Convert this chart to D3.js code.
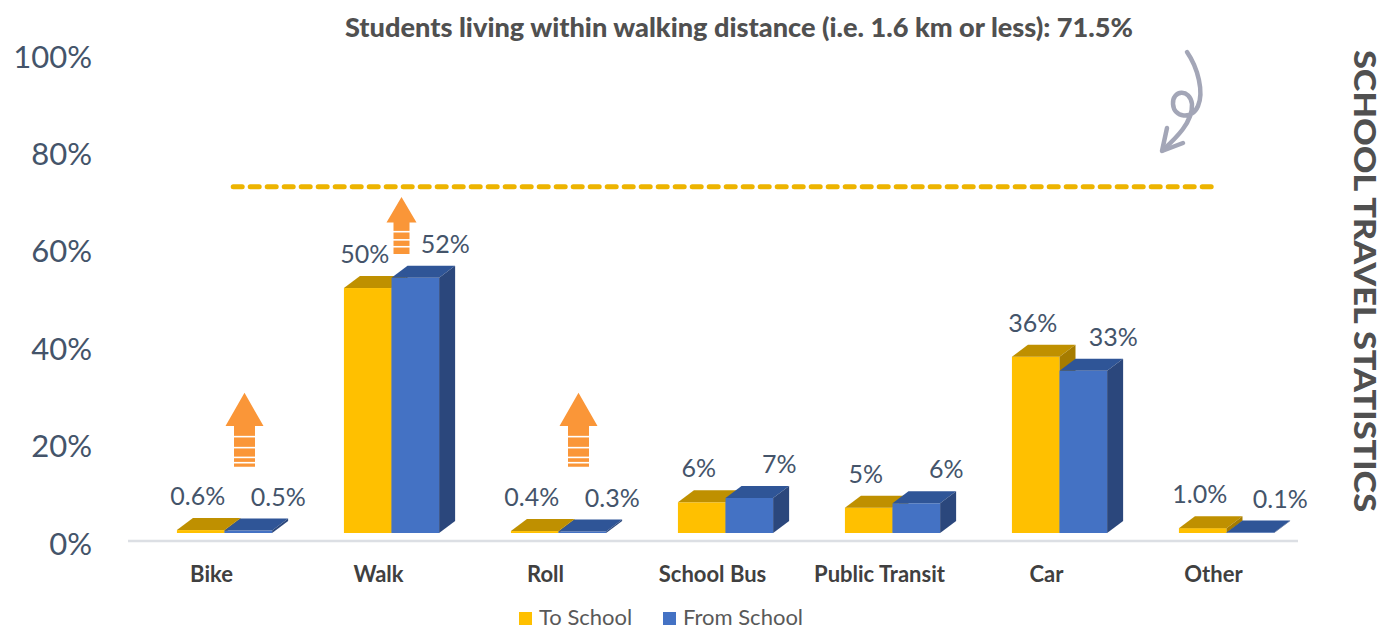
<!DOCTYPE html>
<html>
<head>
<meta charset="utf-8">
<script src="https://cdn.jsdelivr.net/npm/d3@7"></script>
<style>
  html, body { margin: 0; padding: 0; background: #ffffff; }
  svg { display: block; }
</style>
</head>
<body>
<svg id="chart" width="1384" height="631"></svg>
<script>
// ---------- DATA ----------
const categories = ["Bike", "Walk", "Roll", "School Bus", "Public Transit", "Car", "Other"];
const toSchool   = [0.6, 50.3, 0.4, 6.3, 5.2, 36.2, 1.0];
const fromSchool = [0.5, 52.4, 0.3, 7.2, 6.1, 33.3, 0.1];
const seriesNames = ["To School", "From School"];
const yTicks = [0, 20, 40, 60, 80, 100];
const walkingShare = 71.5;
const titleText = "Students living within walking distance (i.e. 1.6 km or less): 71.5%";
const sideTitle = "SCHOOL TRAVEL STATISTICS";
// annotation arrows (category, low value, high value)
const arrowCats = ["Bike", "Walk", "Roll"];
const arrowLow  = [13.6, 57.3, 13.6];
const arrowHigh = [28.8, 69.0, 28.8];

// ---------- STYLE ----------
const colors = {
  toFront: "#FFC000", toTop: "#BF9000", toSide: "#A67C00",
  fromFront: "#4472C4", fromTop: "#2F5597", fromSide: "#2B477C",
  label: "#44546A", cat: "#404040", legend: "#595959",
  dash: "#EDB400", orange: "#FA9638", curl: "#A3A6B7", title: "#505050"
};
const svg = d3.select("#chart");
const x = d3.scaleBand().domain(categories).range([128, 1297]).padding(0);
const y = d3.scaleLinear().domain([0, 100]).range([533, 46]);
const bw = x.bandwidth();
const barW = bw * 0.285;
const pairOffset = bw * 0.078;
const DX = 16, DY = -12;

// ---------- AXIS LABELS ----------
const yAxis = d3.axisLeft(y).tickValues(yTicks).tickFormat(d => d + "%").tickSize(0).tickPadding(0);
const gY = svg.append("g").attr("transform", "translate(92,10)").call(yAxis);
gY.select(".domain").remove();
gY.selectAll("text")
  .attr("fill", colors.label)
  .style("font-family", "Lato, 'Open Sans', sans-serif")
  .style("font-size", "31px")
  .attr("dy", "0.36em");

// floor line
svg.append("line")
  .attr("x1", x.range()[0]).attr("x2", x.range()[1] + 1)
  .attr("y1", y(0) + 8).attr("y2", y(0) + 8)
  .attr("stroke", "#DCDFE4").attr("stroke-width", 2.5);

// ---------- BARS ----------
function bar3d(g, x0, v, front, top, side) {
  const yt = y(v), yb = y(0);
  g.append("rect").attr("x", x0).attr("y", yt).attr("width", barW).attr("height", Math.max(0, yb - yt)).attr("fill", front);
  g.append("path").attr("d",
    `M${x0},${yt} L${x0 + DX},${yt + DY} L${x0 + barW + DX},${yt + DY} L${x0 + barW},${yt} Z`).attr("fill", top);
  g.append("path").attr("d",
    `M${x0 + barW},${yt} L${x0 + barW + DX},${yt + DY} L${x0 + barW + DX},${yb + DY} L${x0 + barW},${yb} Z`).attr("fill", side);
}
const fmt = v => v < 2 ? v.toFixed(1) + "%" : Math.round(v) + "%";
const gBars = svg.append("g");
categories.forEach((c, i) => {
  const cx = x(c) + bw / 2 + pairOffset;
  const g = gBars.append("g");
  bar3d(g, cx - barW, toSchool[i], colors.toFront, colors.toTop, colors.toSide);
  bar3d(g, cx, fromSchool[i], colors.fromFront, colors.fromTop, colors.fromSide);
});
// data labels
const gLab = svg.append("g")
  .style("font-family", "Lato, 'Open Sans', sans-serif")
  .style("font-size", "25px").attr("fill", colors.label).attr("text-anchor", "middle");
categories.forEach((c, i) => {
  const cx = x(c) + bw / 2 + pairOffset;
  gLab.append("text").attr("x", cx - barW / 2 - 3).attr("y", y(toSchool[i]) + DY - 22).attr("dy", "0.36em").text(fmt(toSchool[i]));
  gLab.append("text").attr("x", cx + barW / 2 + 30).attr("y", y(fromSchool[i]) + DY - 22).attr("dy", "0.36em").text(fmt(fromSchool[i]));
});

// category labels
const xAxis = d3.axisBottom(x).tickSize(0).tickPadding(0);
const gX = svg.append("g").attr("transform", "translate(0,574)").call(xAxis);
gX.select(".domain").remove();
gX.selectAll("text")
  .attr("fill", colors.cat)
  .attr("dy", "0.36em")
  .style("font-family", "Lato, 'Open Sans', sans-serif")
  .style("font-weight", "700")
  .style("font-size", "22px");

// ---------- DASHED LINE ----------
svg.append("line")
  .attr("x1", x("Bike") + bw * 0.63).attr("x2", x("Other") + bw * 0.51)
  .attr("y1", y(walkingShare) + 2).attr("y2", y(walkingShare) + 2)
  .attr("stroke", colors.dash).attr("stroke-width", 5)
  .attr("stroke-dasharray", "9 8").attr("stroke-linecap", "round");

// ---------- ORANGE ARROWS ----------
arrowCats.forEach((c, i) => {
  const big = arrowHigh[i] - arrowLow[i] > 13;
  const cx = x(c) + bw / 2 + (big ? 33 : 23);
  const yTop = y(arrowHigh[i]), yBot = y(arrowLow[i]);
  const hw = big ? 19 : 15, sw = big ? 10.5 : 8;
  const headH = (yBot - yTop) * 0.45;
  const yh = yTop + headH;
  svg.append("path").attr("fill", colors.orange).attr("d",
    `M${cx},${yTop} L${cx + hw},${yh} L${cx + sw},${yh} L${cx + sw},${yBot} L${cx - sw},${yBot} L${cx - sw},${yh} L${cx - hw},${yh} Z`);
  const shaft = yBot - yh;
  (big ? [0.26, 0.53, 0.77, 0.9] : [0.29, 0.55, 0.77]).forEach(f => {
    svg.append("line").attr("x1", cx - sw - 1).attr("x2", cx + sw + 1)
      .attr("y1", yh + shaft * f).attr("y2", yh + shaft * f)
      .attr("stroke", "#ffffff").attr("stroke-width", 1.6);
  });
});

// ---------- CURLY ARROW ----------
svg.append("path")
  .attr("d", "M1187,52 C1198,68 1204,92 1198,106 C1192,120 1174,118 1173,104 C1172,90 1190,88 1192,104 C1193,122 1176,138 1163,150")
  .attr("fill", "none").attr("stroke", colors.curl).attr("stroke-width", 4.5).attr("stroke-linecap", "round");
svg.append("path")
  .attr("d", "M1167,128 L1162,151 L1183,143")
  .attr("fill", "none").attr("stroke", colors.curl).attr("stroke-width", 4.5)
  .attr("stroke-linecap", "round").attr("stroke-linejoin", "round");

// ---------- TITLES ----------
svg.append("text")
  .attr("x", 345).attr("y", 37)
  .attr("textLength", 788).attr("lengthAdjust", "spacingAndGlyphs")
  .attr("fill", colors.title)
  .style("font-family", "Lato, sans-serif").style("font-weight", "900").style("font-size", "27px")
  .text(titleText);
svg.append("text")
  .attr("transform", "translate(1365,281) rotate(90)")
  .attr("text-anchor", "middle").attr("dy", "0.36em")
  .attr("textLength", 462).attr("lengthAdjust", "spacingAndGlyphs")
  .attr("fill", colors.title)
  .style("font-family", "Lato, sans-serif").style("font-weight", "900").style("font-size", "31px")
  .text(sideTitle);

// ---------- LEGEND ----------
const legendX = [519, 663];
const legendColors = [colors.toFront, colors.fromFront];
seriesNames.forEach((n, i) => {
  svg.append("rect").attr("x", legendX[i]).attr("y", 612).attr("width", 13).attr("height", 13).attr("fill", legendColors[i]);
  svg.append("text").attr("x", legendX[i] + 20).attr("y", 625)
    .attr("fill", colors.legend)
    .style("font-family", "Lato, 'Open Sans', sans-serif").style("font-size", "22px")
    .text(n);
});
</script>
</body>
</html>
